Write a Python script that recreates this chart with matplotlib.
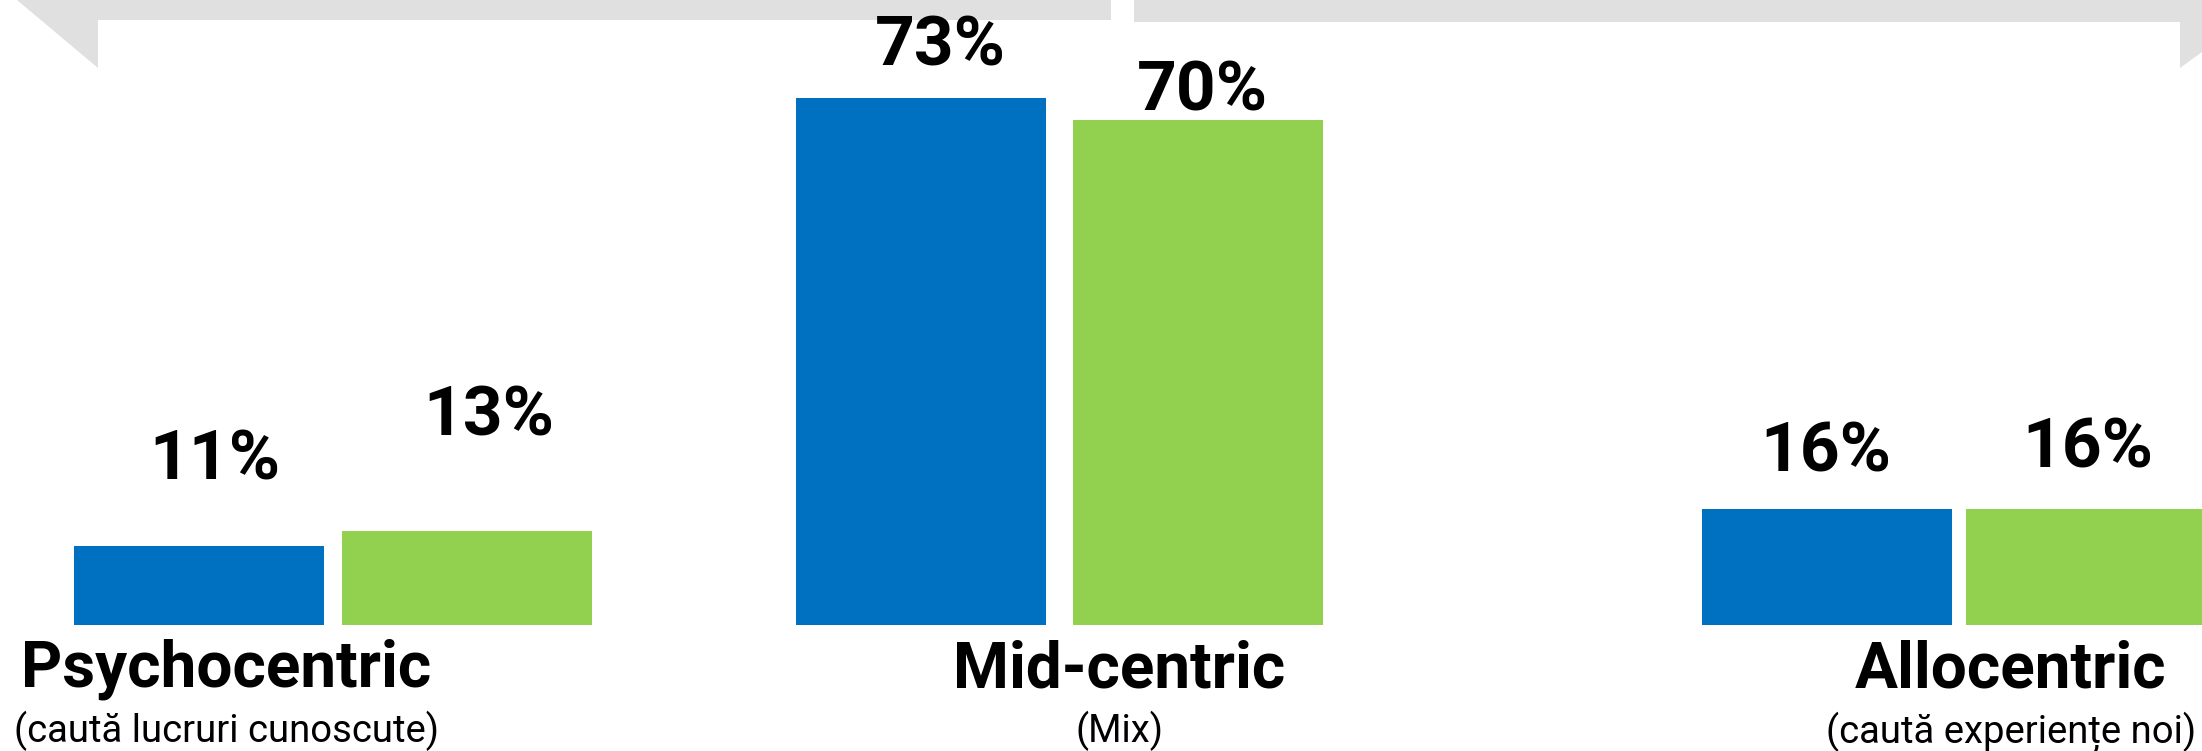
import matplotlib
matplotlib.use("Agg")
import matplotlib.pyplot as plt
from matplotlib.patches import Polygon

plt.rcParams['font.family'] = ['Roboto', 'DejaVu Sans']

# data
categories = ["Psychocentric", "Mid-centric", "Allocentric"]
subtitles = ["(caută lucruri cunoscute)", "(Mix)", "(caută experiențe noi)"]
series_blue = [11, 73, 16]
series_green = [13, 70, 16]

BLUE = "#0070C0"
GREEN = "#92D050"
GRAY = "#E0E0E0"

W, H = 2202, 751
fig = plt.figure(figsize=(W / 100, H / 100), dpi=100)

# layout (pixels)
baseline_px = 625
px_per_pct = 7.22
bar_w = 250
group_centers = [333, 1059, 1959]
pair_gaps = [18, 27, 14]
title_centers = [226, 1119, 2011]
pad_blue = [(16, 66), (20, 32), (-1, 38)]
pad_green = [(22, 96), (5, 9), (-3, 42)]

ax = fig.add_axes([0, (H - baseline_px) / H, 1, baseline_px / H])
ax.set_xlim(0, W)
ax.set_ylim(0, baseline_px / px_per_pct)
ax.axis("off")
ax.set_zorder(2)

for i in range(len(categories)):
    off = (bar_w + pair_gaps[i]) / 2
    xb = group_centers[i] - off
    xg = group_centers[i] + off
    ax.bar(xb, series_blue[i], width=bar_w, color=BLUE, clip_on=False)
    ax.bar(xg, series_green[i], width=bar_w, color=GREEN, clip_on=False)
    ax.annotate(f"{series_blue[i]}%", xy=(xb, series_blue[i]), xytext=pad_blue[i],
                textcoords="offset pixels", ha="center", va="baseline",
                fontsize=50, fontweight="bold", annotation_clip=False)
    ax.annotate(f"{series_green[i]}%", xy=(xg, series_green[i]), xytext=pad_green[i],
                textcoords="offset pixels", ha="center", va="baseline",
                fontsize=50, fontweight="bold", annotation_clip=False)

    fig.text(title_centers[i] / W, 1 - 687 / H, categories[i], ha="center",
             va="baseline", fontsize=46, fontweight="bold")
    fig.text(title_centers[i] / W, 1 - 742 / H, subtitles[i], ha="center",
             va="baseline", fontsize=27.5, fontweight="normal")


def fig_poly(points):
    pts = [(x / W, 1 - y / H) for x, y in points]
    fig.patches.append(Polygon(pts, closed=True, facecolor=GRAY, edgecolor="none",
                               transform=fig.transFigure, zorder=1))


# decorative gray arrows at the top
fig_poly([(17, 0), (1111, 0), (1111, 20), (98, 20), (98, 68)])
fig_poly([(1134, 0), (2202, 0), (2202, 52), (2180, 68), (2180, 22), (1134, 22)])

fig.savefig("out.png", dpi=100)
